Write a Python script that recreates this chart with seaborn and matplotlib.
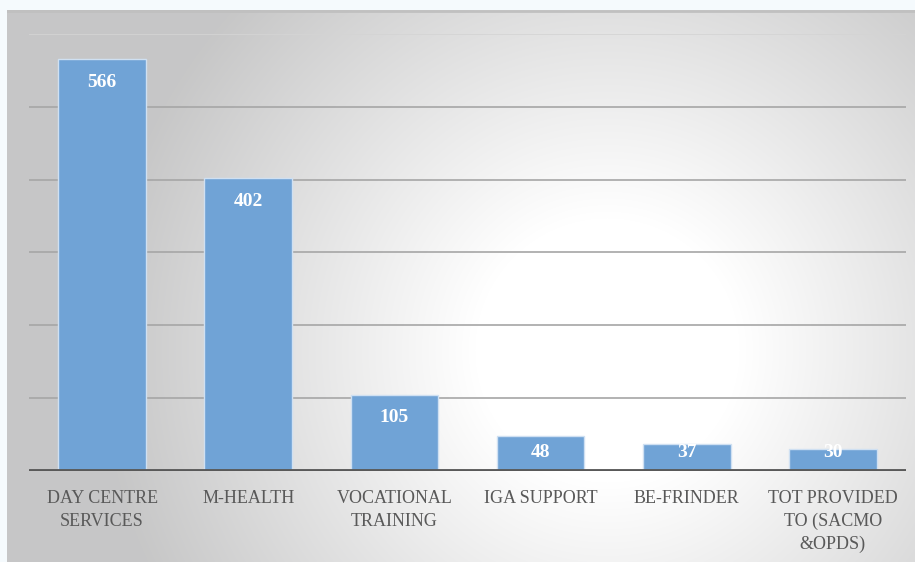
import numpy as np
import pandas as pd
import matplotlib.pyplot as plt
import seaborn as sns

# data
categories = ['DAY CENTRE\nSERVICES', 'M-HEALTH', 'VOCATIONAL\nTRAINING',
              'IGA SUPPORT', 'BE-FRINDER', 'TOT PROVIDED\nTO (SACMO\n&OPDS)']
counts = [566, 402, 105, 48, 37, 30]
grid_values = [100, 200, 300, 400, 500, 600]

df = pd.DataFrame({'Service': categories, 'Count': counts})

sns.set_style('white')
plt.rcParams['font.family'] = ['Liberation Serif', 'DejaVu Serif']

fig = plt.figure(figsize=(9.15, 5.62), dpi=100)
fig.patch.set_facecolor('#f5fafd')

# panel with radial grey-to-white gradient
bg = fig.add_axes([7 / 915, 0, 908 / 915, 552 / 562])
bg.set_zorder(0)
W, H = 908, 552
xx, yy = np.meshgrid(np.arange(W), np.arange(H))
cx, cy = 600, 340
d = np.sqrt(((xx - cx) / 440.0) ** 2 + ((yy - cy) / 440.0) ** 2)
t = np.clip((d - 0.3) / 0.85, 0, 1)
shade = 1.0 - 0.22 * t
img = np.dstack([shade, shade, shade * 0.995 + 0.005])
bg.imshow(img, aspect='auto', extent=(0, W, H, 0))
bg.set_xlim(0, W)
bg.set_ylim(H, 0)
bg.axhline(1, color='#c0c0c0', lw=2)
bg.set_axis_off()

ax = fig.add_axes([29 / 915, (562 - 471) / 562, 877 / 915, (471 - 34) / 562])
ax.set_zorder(1)
ax.patch.set_alpha(0)

for g in grid_values:
    ax.axhline(g, color='#a6a6a6' if g < 600 else '#d4d4d4', lw=1.2, zorder=0)

sns.barplot(data=df, x='Service', y='Count', color='#70a3d6', saturation=1,
            width=0.6, edgecolor='#cfe0f2', linewidth=1, ax=ax, zorder=2)

for i, v in enumerate(counts):
    y_lab = max(v - 32, 26)
    ax.text(i, y_lab, str(v), ha='center', va='center', color='white',
            fontsize=14, fontweight='bold', zorder=3)

ax.axhline(0, color='#595959', lw=3.5, zorder=4)
ax.set_xlim(-0.5, len(categories) - 0.5)
ax.set_ylim(0, 600)
ax.set_yticks([])
ax.set_xlabel('')
ax.set_ylabel('')
ax.tick_params(axis='x', length=0, pad=14, labelsize=13, labelcolor='#595959')
for lab in ax.get_xticklabels():
    lab.set_linespacing(1.42)
    lab.set_verticalalignment('top')
sns.despine(ax=ax, left=True, bottom=True)

fig.savefig('out.png', dpi=100)
